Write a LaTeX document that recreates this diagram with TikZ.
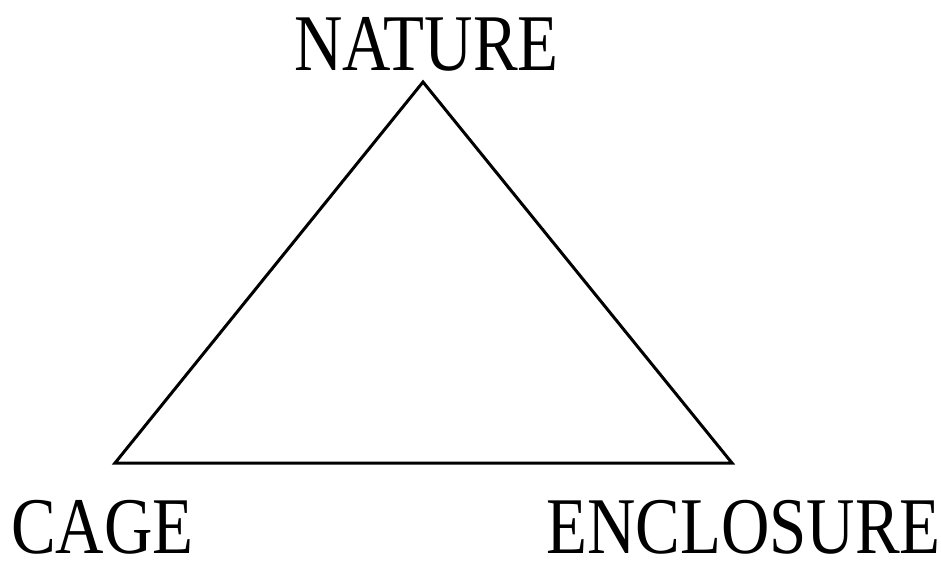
\documentclass[tikz,border=0pt]{standalone}
\usepackage{fontspec}
\setmainfont{Liberation Serif}
\usepackage{graphicx}
\usepackage{tikz}
\usetikzlibrary{positioning}
\newcommand{\tallcaps}[1]{\scalebox{1}[1.2]{#1}}
\tikzset{
    corner/.style = {coordinate},
    vertexlabel/.style = {inner sep=0pt, anchor=base, font=\fontsize{67}{70}\selectfont},
    side/.style = {line width=3pt, line join=miter}
}
\begin{document}
\begin{tikzpicture}[x=1pt, y=-1pt]
    \useasboundingbox (0,0) rectangle (941,561);

    \coordinate [corner] (top) at (423,82);
    \coordinate [corner] (left) at (115,463);
    \coordinate [corner] (right) at (732,463);

    \node [vertexlabel] (nature) at (426.5,71) {\tallcaps{NATURE}};
    \node [vertexlabel] (cage) at (102.5,553) {\tallcaps{CAGE}};
    \node [vertexlabel] (enclosure) at (743.5,553) {\tallcaps{ENCLOSURE}};

    \draw [side] (top) -- (right) -- (left) -- cycle;
\end{tikzpicture}
\end{document}
